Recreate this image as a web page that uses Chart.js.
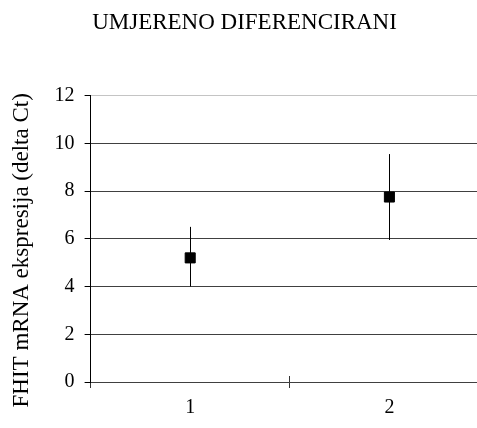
<!DOCTYPE html>
<html>
<head>
<meta charset="utf-8">
<script src="https://cdn.jsdelivr.net/npm/chart.js@4.4.1/dist/chart.umd.min.js"></script>
<style>
  html, body { margin: 0; padding: 0; background: #fff; overflow: hidden; }
  #wrap { width: 534px; height: 428px; }
</style>
</head>
<body>
<div id="wrap"><canvas id="chart"></canvas></div>
<script>
const categories = ['1', '2'];
const meanValues = [5.2, 7.75];
const lowValues = [4.0, 5.95];
const highValues = [6.5, 9.55];
const yTicks = [0, 2, 4, 6, 8, 10, 12];

const serif = 'Liberation Serif';

// same rounding Chart.js uses for 1px lines
const crisp = p => Math.round(p - 0.5) + 0.5;

// vertical error bars, drawn behind the square markers
const errorBars = {
  id: 'errorBars',
  beforeDatasetsDraw(chart) {
    const { ctx, scales: { x, y } } = chart;
    ctx.save();
    ctx.strokeStyle = '#000';
    ctx.lineWidth = 1;
    categories.forEach((c, i) => {
      const px = crisp(x.getPixelForValue(i));
      ctx.beginPath();
      ctx.moveTo(px, y.getPixelForValue(highValues[i]));
      ctx.lineTo(px, y.getPixelForValue(lowValues[i]));
      ctx.stroke();
    });
    ctx.restore();
  },
  afterDraw(chart) {
    // inner half of the tick between the categories (it crosses the axis)
    const { ctx, scales: { x } } = chart;
    ctx.save();
    ctx.strokeStyle = '#333';
    ctx.lineWidth = 1;
    for (let i = 1; i < categories.length; i++) {
      const px = crisp(x.getPixelForTick(i) - (x.getPixelForTick(i) - x.getPixelForTick(i - 1)) / 2);
      ctx.beginPath();
      ctx.moveTo(px, x.top - 6);
      ctx.lineTo(px, x.top);
      ctx.stroke();
    }
    ctx.restore();
  }
};

new Chart(document.getElementById('chart').getContext('2d'), {
  type: 'line',
  data: {
    labels: categories,
    datasets: [{
      data: meanValues,
      showLine: false,
      pointStyle: 'rect',
      pointRadius: 7.1,
      pointBackgroundColor: '#000',
      pointBorderColor: '#000',
      pointBorderWidth: 1
    }]
  },
  options: {
    responsive: true,
    maintainAspectRatio: false,
    animation: false,
    layout: { padding: { left: 0, right: 45, top: 0, bottom: 0 } },
    plugins: {
      legend: { display: false },
      tooltip: { enabled: false },
      title: {
        display: true,
        text: 'UMJERENO DIFERENCIRANI',
        color: '#000',
        font: { family: serif, size: 23, weight: 'normal' },
        padding: { top: 9, bottom: 59 }
      }
    },
    scales: {
      x: {
        offset: true,
        grid: {
          offset: true,
          drawOnChartArea: false,
          tickLength: 6,
          tickColor: '#333'
        },
        border: { color: '#404040', width: 1 },
        ticks: {
          color: '#000',
          padding: 8,
          font: { family: serif, size: 20 }
        }
      },
      y: {
        min: 0,
        max: 12,
        afterBuildTicks(axis) {
          axis.ticks = yTicks.map(v => ({ value: v }));
        },
        grid: {
          color: c => (c.tick && c.tick.value === 12 ? '#c4c4c4' : '#404040'),
          tickColor: '#000',
          tickLength: 6
        },
        border: { color: '#000', width: 1 },
        ticks: {
          color: '#000',
          padding: 10,
          font: { family: serif, size: 20 }
        },
        title: {
          display: true,
          text: 'FHIT mRNA ekspresija (delta Ct)    ',
          color: '#000',
          font: { family: serif, size: 23, weight: 'normal' },
          padding: { top: 8, bottom: 9 }
        }
      }
    }
  },
  plugins: [errorBars]
});
</script>
</body>
</html>
